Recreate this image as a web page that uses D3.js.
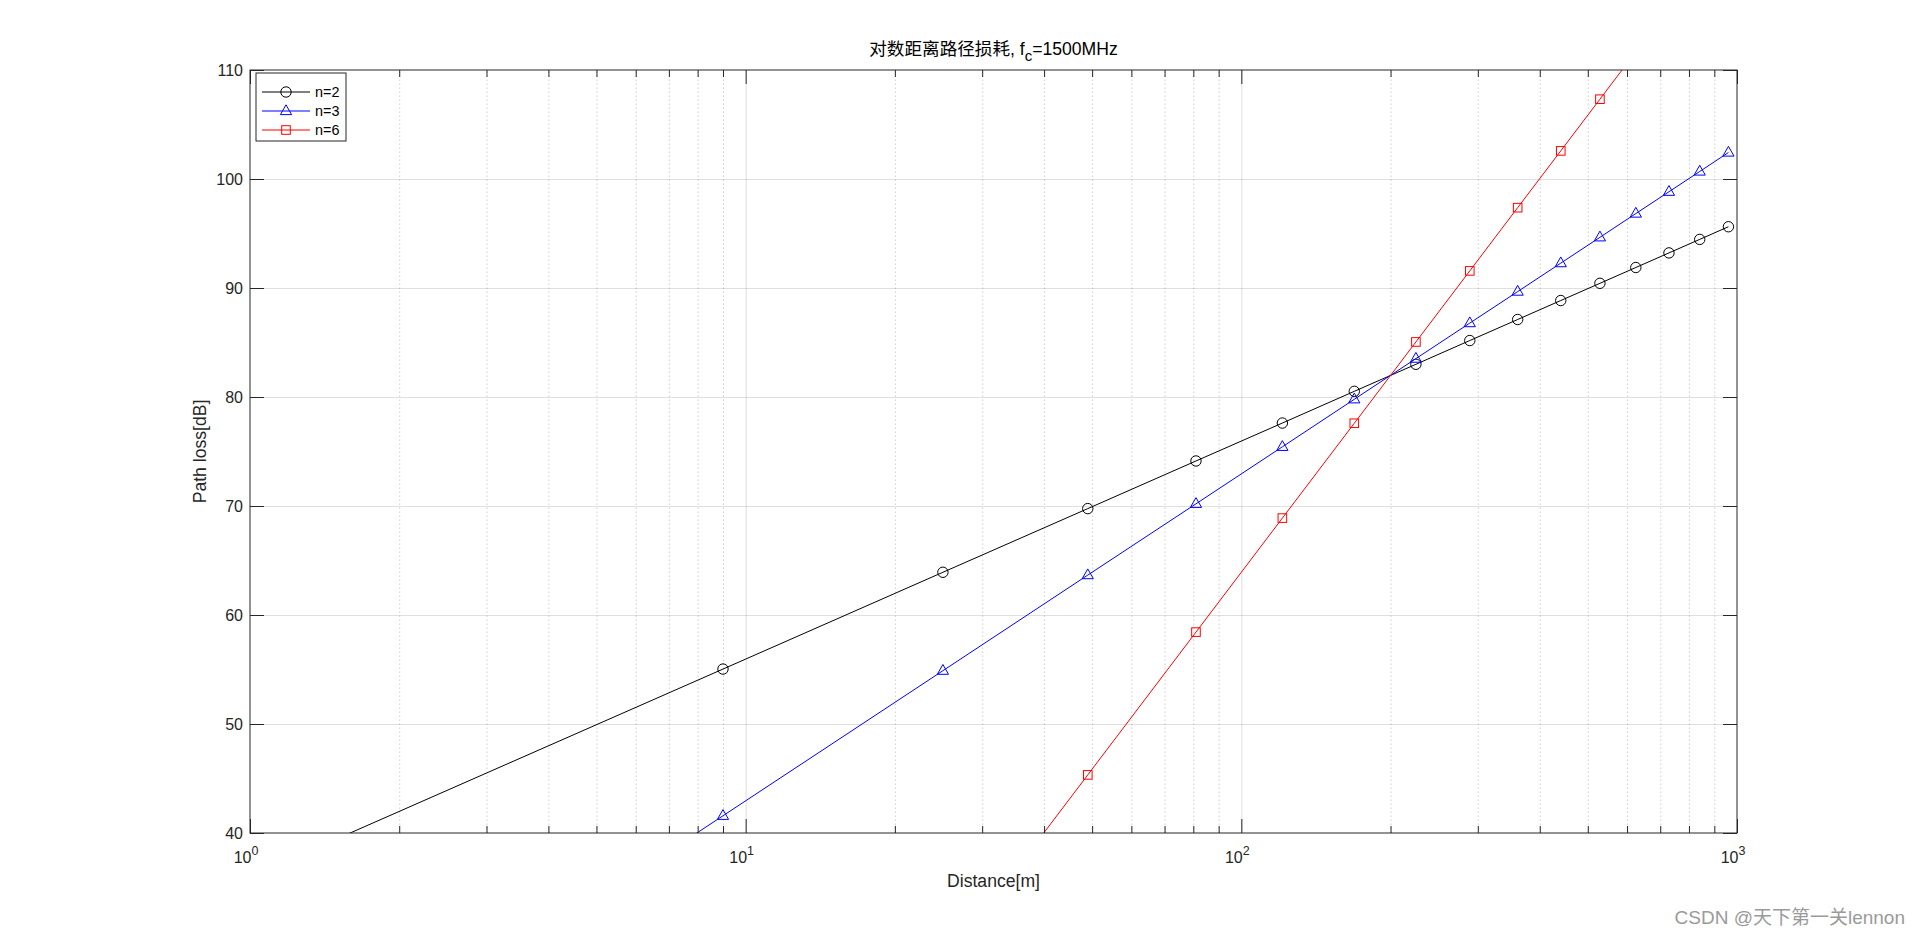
<!DOCTYPE html>
<html>
<head>
<meta charset="utf-8">
<script src="https://cdn.jsdelivr.net/npm/d3@7"></script>
<style>
  body { margin: 0; background: #fff; }
  svg { display: block; font-family: "Liberation Sans", Arial, "Noto Sans CJK SC", sans-serif; }
  .axis path { display: none; }
  .axis line { stroke: #262626; }
  .axis text { fill: #262626; font-size: 16px; }
  .grid path { display: none; }
  .grid line { stroke: #262626; stroke-opacity: 0.15; }
  .grid-minor line { stroke: #262626; stroke-opacity: 0.22; stroke-dasharray: 1.5,2.5; }
</style>
</head>
<body>
<svg width="1920" height="937"></svg>
<script>
// distance samples (m) and path loss (dB) for each exponent
var distances = [1, 9, 25, 49, 81, 121, 169, 225, 289, 361, 441, 529, 625, 729, 841, 961];
var lossN2 = [35.96, 55.04, 63.92, 69.76, 74.13, 77.61, 80.52, 83.00, 85.18, 87.11, 88.85, 90.43, 91.88, 93.22, 94.46, 95.62];
var lossN3 = [12.95, 41.58, 54.89, 63.66, 70.20, 75.43, 79.79, 83.52, 86.78, 89.67, 92.28, 94.65, 96.83, 98.83, 100.69, 102.43];
var lossN6 = [-56.08, 1.17, 27.79, 45.33, 58.43, 68.89, 77.59, 85.05, 91.57, 97.37, 102.58, 107.32, 111.67, 115.68, 119.41, 122.88];
var seriesNames = ["n=2", "n=3", "n=6"];
var seriesColors = ["#000000", "#0000ff", "#ff0000"];
var seriesMarkers = ["circle", "triangle", "square"];
var xMajorTicks = [1, 10, 100, 1000];
var xTickExp = ["0", "1", "2", "3"];
var yTicks = [40, 50, 60, 70, 80, 90, 100, 110];

var svg = d3.select("svg"),
    margin = {top: 70, right: 183, bottom: 104, left: 250},
    width = 1920 - margin.left - margin.right,
    height = 937 - margin.top - margin.bottom,
    g = svg.append("g").attr("transform", "translate(" + margin.left + "," + margin.top + ")");

var x = d3.scaleLog().domain([1, 1000]).range([0, width]),
    y = d3.scaleLinear().domain([40, 110]).range([height, 0]);

// minor log ticks 2..9 per decade
var xMinorTicks = [];
[1, 10, 100].forEach(function(dec) {
  for (var k = 2; k < 10; k++) xMinorTicks.push(dec * k);
});

// grid
g.append("g").attr("class", "grid grid-minor")
    .attr("transform", "translate(0," + height + ")")
    .call(d3.axisBottom(x).tickValues(xMinorTicks).tickSize(-height).tickFormat(""));
g.append("g").attr("class", "grid")
    .attr("transform", "translate(0," + height + ")")
    .call(d3.axisBottom(x).tickValues(xMajorTicks.slice(1, 3)).tickSize(-height).tickFormat(""));
g.append("g").attr("class", "grid")
    .call(d3.axisLeft(y).tickValues(yTicks.slice(1, -1)).tickSize(-width).tickFormat(""));

// clip for the data
svg.append("clipPath").attr("id", "plotclip")
  .append("rect").attr("width", width).attr("height", height);

var line = d3.line()
    .x(function(d) { return x(d.d); })
    .y(function(d) { return y(d.v); });

var series = [lossN2, lossN3, lossN6].map(function(vals, i) {
  return {
    name: seriesNames[i],
    color: seriesColors[i],
    marker: seriesMarkers[i],
    values: distances.map(function(d, j) { return {d: d, v: vals[j]}; })
  };
});

var plot = g.append("g").attr("clip-path", "url(#plotclip)");

function drawMarker(sel, type, color) {
  if (type === "circle") {
    sel.append("circle").attr("r", 5.2)
      .attr("fill", "none").attr("stroke", color).attr("stroke-width", 1);
  } else if (type === "triangle") {
    sel.append("path").attr("d", "M0,-6.2L5.6,3.6L-5.6,3.6Z")
      .attr("fill", "none").attr("stroke", color).attr("stroke-width", 1);
  } else {
    sel.append("rect").attr("x", -4.3).attr("y", -4.3).attr("width", 8.6).attr("height", 8.6)
      .attr("fill", "none").attr("stroke", color).attr("stroke-width", 1);
  }
}

series.forEach(function(s) {
  plot.append("path")
    .attr("d", line(s.values))
    .attr("fill", "none")
    .attr("stroke", s.color)
    .attr("stroke-width", 1);
  s.values.forEach(function(p) {
    var m = plot.append("g").attr("transform", "translate(" + x(p.d) + "," + y(p.v) + ")");
    drawMarker(m, s.marker, s.color);
  });
});

// axes (ticks inside, mirrored on top/right)
g.append("g").attr("class", "axis")
    .attr("transform", "translate(0," + height + ")")
    .call(d3.axisBottom(x).tickValues(xMinorTicks).tickSize(-7).tickFormat(""));
g.append("g").attr("class", "axis")
    .attr("transform", "translate(0," + height + ")")
    .call(d3.axisBottom(x).tickValues(xMajorTicks).tickSize(-14).tickFormat(""));
g.append("g").attr("class", "axis")
    .call(d3.axisTop(x).tickValues(xMinorTicks).tickSize(-7).tickFormat(""));
g.append("g").attr("class", "axis")
    .call(d3.axisTop(x).tickValues(xMajorTicks).tickSize(-14).tickFormat(""));
g.append("g").attr("class", "axis")
    .call(d3.axisLeft(y).tickValues(yTicks).tickSize(-14).tickPadding(7));
g.append("g").attr("class", "axis")
    .attr("transform", "translate(" + width + ",0)")
    .call(d3.axisRight(y).tickValues(yTicks).tickSize(-14).tickFormat(""));

// box
g.append("rect")
    .attr("width", width).attr("height", height)
    .attr("fill", "none").attr("stroke", "#262626").attr("stroke-width", 1);

// x tick labels 10^k
xMajorTicks.forEach(function(t, i) {
  var tx = g.append("text")
    .attr("x", x(t) - 4)
    .attr("y", height + 30)
    .attr("text-anchor", "middle")
    .attr("fill", "#262626")
    .style("font-size", "16px");
  tx.append("tspan").text("10");
  tx.append("tspan").attr("dy", -8).style("font-size", "12.5px").text(xTickExp[i]);
});

// axis labels
g.append("text")
    .attr("x", width / 2)
    .attr("y", height + 54)
    .attr("text-anchor", "middle")
    .attr("fill", "#262626")
    .style("font-size", "17.6px")
    .text("Distance[m]");

g.append("text")
    .attr("transform", "translate(-44," + (height / 2) + ") rotate(-90)")
    .attr("text-anchor", "middle")
    .attr("fill", "#262626")
    .style("font-size", "17.6px")
    .text("Path loss[dB]");

// title
var title = g.append("text")
    .attr("x", width / 2)
    .attr("y", -15)
    .attr("text-anchor", "middle")
    .attr("fill", "#000")
    .style("font-size", "17.6px");
title.append("tspan").text("对数距离路径损耗, f");
title.append("tspan").attr("dy", 6).style("font-size", "15px").text("c");
title.append("tspan").attr("dy", -6).text("=1500MHz");

// legend
var legend = g.append("g").attr("transform", "translate(6,3)");
legend.append("rect")
    .attr("width", 90).attr("height", 68)
    .attr("fill", "#fff").attr("stroke", "#262626").attr("stroke-width", 1);

var item = legend.selectAll(".legend-item")
    .data(series)
    .enter()
    .append("g")
    .attr("class", "legend-item")
    .attr("transform", function(d, i) { return "translate(0," + (19 + i * 19) + ")"; });

item.append("line")
    .attr("x1", 6).attr("x2", 54)
    .attr("stroke", function(d) { return d.color; })
    .attr("stroke-width", 1);
item.each(function(d) {
  var m = d3.select(this).append("g").attr("transform", "translate(30,0)");
  drawMarker(m, d.marker, d.color);
});
item.append("text")
    .attr("x", 59)
    .attr("dy", "0.35em")
    .attr("fill", "#000")
    .style("font-size", "14.4px")
    .text(function(d) { return d.name; });

// watermark
svg.append("text")
    .attr("x", 1905)
    .attr("y", 924)
    .attr("text-anchor", "end")
    .attr("fill", "#9a9a9a")
    .style("font-size", "19px")
    .text("CSDN @天下第一关lennon");
</script>
</body>
</html>
